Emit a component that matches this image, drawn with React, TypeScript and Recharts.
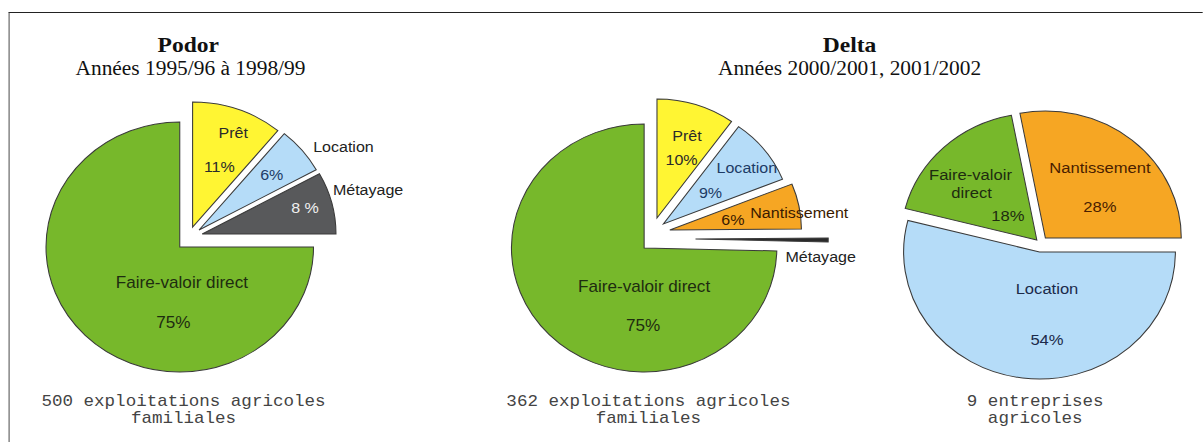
import React from "react";
import { PieChart, Pie, Cell } from "recharts";

// --- data ---
const podorNames = ["Prêt", "Location", "Métayage", "Faire-valoir direct"];
const podorValues = [11, 6, 8, 75];
const podorPct = ["11%", "6%", "8 %", "75%"];

const deltaNames = ["Prêt", "Location", "Nantissement", "Métayage", "Faire-valoir direct"];
const deltaValues = [10, 9, 6, 0.5, 75];
const deltaPct = ["10%", "9%", "6%", "", "75%"];

const entrNames = ["Location", "Faire-valoir direct", "Nantissement"];
const entrValues = [54, 18, 28];
const entrPct = ["54%", "18%", "28%"];

const titles = ["Podor", "Delta"];
const subtitles = ["Années 1995/96 à 1998/99", "Années 2000/2001, 2001/2002"];
const footers = [
  ["500 exploitations agricoles", "familiales"],
  ["362 exploitations agricoles", "familiales"],
  ["9 entreprises", "agricoles"],
];

// --- styles ---
const SX = 1.07; // the original picture is a bit wider than tall
const W = 1124;
const H = 442;
const SANS = "'Liberation Sans', Arial, Helvetica, sans-serif";
const SERIF = "'Liberation Serif', 'Times New Roman', serif";
const MONO = "'Liberation Mono', 'Courier New', monospace";

const GREEN = "#77b82b";
const YELLOW = "#fff533";
const BLUE = "#b5dcf8";
const GREY = "#58595b";
const ORANGE = "#f6a623";
const EDGE = "#3a3a3a";

type SliceStyle = {
  fill: string;
  off: [number, number];
  r?: number;
  name: [number, number][];
  pct?: [number, number];
  nameColor: string;
  pctColor: string;
  fs: number;
};

const podorStyle: SliceStyle[] = [
  { fill: YELLOW, off: [12, -20], name: [[38, -94]], pct: [25, -60], nameColor: "#2a2a2a", pctColor: "#2a2a2a", fs: 15 },
  { fill: BLUE, off: [18, -17], name: [[135, -83]], pct: [68, -55], nameColor: "#222", pctColor: "#1d3b66", fs: 15 },
  { fill: GREY, off: [21, -13], name: [[155, -44]], pct: [96, -26], nameColor: "#222", pctColor: "#f0f0f0", fs: 15 },
  { fill: GREEN, off: [0, 0], name: [[2, 36]], pct: [-6, 75], nameColor: "#1e2c10", pctColor: "#1e2c10", fs: 16 },
];

const deltaStyle: SliceStyle[] = [
  { fill: YELLOW, off: [12, -30], r: 119, name: [[28, -82]], pct: [23, -58], nameColor: "#2a2a2a", pctColor: "#2a2a2a", fs: 15 },
  { fill: BLUE, off: [18, -24], r: 120, name: [[78, -56]], pct: [44, -31], nameColor: "#1d3b66", pctColor: "#1d3b66", fs: 15 },
  { fill: ORANGE, off: [24, -18], r: 123, name: [[121, -17]], pct: [59, -10], nameColor: "#3a1a00", pctColor: "#3a1a00", fs: 15 },
  { fill: "#2a2a2a", off: [48, -9], name: [[117, 18]], nameColor: "#222", pctColor: "#222", fs: 15 },
  { fill: GREEN, off: [0, 0], name: [[0, 39]], pct: [-1, 78], nameColor: "#1e2c10", pctColor: "#1e2c10", fs: 16 },
];

const entrStyle: SliceStyle[] = [
  { fill: BLUE, off: [-0.5, 7], name: [[7, 37]], pct: [7, 88], nameColor: "#1b2a4a", pctColor: "#1b2a4a", fs: 15.5 },
  { fill: GREEN, off: [-3, -5], name: [[-62, -65], [-61, -47]], pct: [-27, -24], nameColor: "#1e2c10", pctColor: "#1e2c10", fs: 15.5 },
  { fill: ORANGE, off: [5, -7], name: [[51, -70]], pct: [51, -31], nameColor: "#4a1e00", pctColor: "#4a1e00", fs: 15.5 },
];

type ChartDef = {
  key: string;
  names: string[];
  values: number[];
  pct: string[];
  style: SliceStyle[];
  cx: number;
  cy: number;
  r: number;
  start: number;
  end: number;
};

const charts: ChartDef[] = [
  { key: "podor", names: podorNames, values: podorValues, pct: podorPct, style: podorStyle, cx: 168, cy: 247, r: 125, start: 90, end: -270 },
  { key: "delta", names: deltaNames, values: deltaValues, pct: deltaPct, style: deltaStyle, cx: 602, cy: 248, r: 124, start: 90, end: -270 },
  { key: "entr", names: entrNames, values: entrValues, pct: entrPct, style: entrStyle, cx: 972, cy: 245, r: 127, start: 0, end: -360 },
];

function makeLabel(c: ChartDef, idx: number) {
  return (p: any) => {
    if (p.index !== idx) return <g />;
    const st = c.style[idx];
    const x0 = p.cx;
    const y0 = p.cy;
    const lines = st.name.length > 1 ? c.names[idx].split(" ") : [c.names[idx]];
    return (
      <g fontFamily={SANS} fontSize={st.fs} textAnchor="middle">
        {lines.map((ln, k) => (
          <text key={k} x={x0 + st.name[k][0]} y={y0 + st.name[k][1] + 5.5} fill={st.nameColor}>
            {ln}
          </text>
        ))}
        {st.pct && (
          <text x={x0 + st.pct[0]} y={y0 + st.pct[1] + 5.5} fill={st.pctColor}>
            {c.pct[idx]}
          </text>
        )}
      </g>
    );
  };
}

export default function App() {
  return (
    <div
      style={{
        position: "absolute",
        left: 0,
        top: 0,
        width: W,
        height: H,
        overflow: "hidden",
        background: "#fff",
        transform: `scaleX(${SX})`,
        transformOrigin: "0 0",
      }}
    >
      <div
        style={{
          position: "absolute",
          left: 8.4,
          top: 12,
          width: 2000,
          height: 1000,
          borderTop: "1.5px solid #222",
          borderLeft: "1.5px solid #555",
        }}
      />
      <div style={{ position: "absolute", left: 0, top: 0 }}>
        <PieChart width={W} height={H} margin={{ top: 0, right: 0, bottom: 0, left: 0 }}>
          {charts.map((c) => {
            const data = c.names.map((name, i) => ({ name, value: c.values[i] }));
            return c.style.map((st, idx) => (
              <Pie
                key={`${c.key}-${idx}`}
                data={data}
                dataKey="value"
                nameKey="name"
                cx={c.cx + st.off[0]}
                cy={c.cy + st.off[1]}
                outerRadius={st.r ?? c.r}
                startAngle={c.start}
                endAngle={c.end}
                isAnimationActive={false}
                labelLine={false}
                label={makeLabel(c, idx)}
              >
                {data.map((_, i) => (
                  <Cell
                    key={i}
                    fill={i === idx ? st.fill : "none"}
                    stroke={i === idx ? EDGE : "none"}
                    strokeWidth={1}
                  />
                ))}
              </Pie>
            ));
          })}
        </PieChart>
      </div>
      <svg width={W} height={H} style={{ position: "absolute", left: 0, top: 0, pointerEvents: "none" }}>
        {titles.map((t, i) => (
          <g key={t} textAnchor="middle" fill="#111">
            <text x={i === 0 ? 176 : 794} y={52.5} fontFamily={SERIF} fontWeight="bold" fontSize={22}>
              {t}
            </text>
            <text x={i === 0 ? 178 : 794} y={75} fontFamily={SERIF} fontSize={20}>
              {subtitles[i]}
            </text>
          </g>
        ))}
        {footers.map((f, i) => (
          <g key={i} textAnchor="middle" fill="#444" fontFamily={MONO} fontSize={16.4}>
            {f.map((ln, k) => (
              <text key={k} x={[171.5, 606, 967.5][i]} y={406.5 + k * 16.5}>
                {ln}
              </text>
            ))}
          </g>
        ))}
      </svg>
    </div>
  );
}
